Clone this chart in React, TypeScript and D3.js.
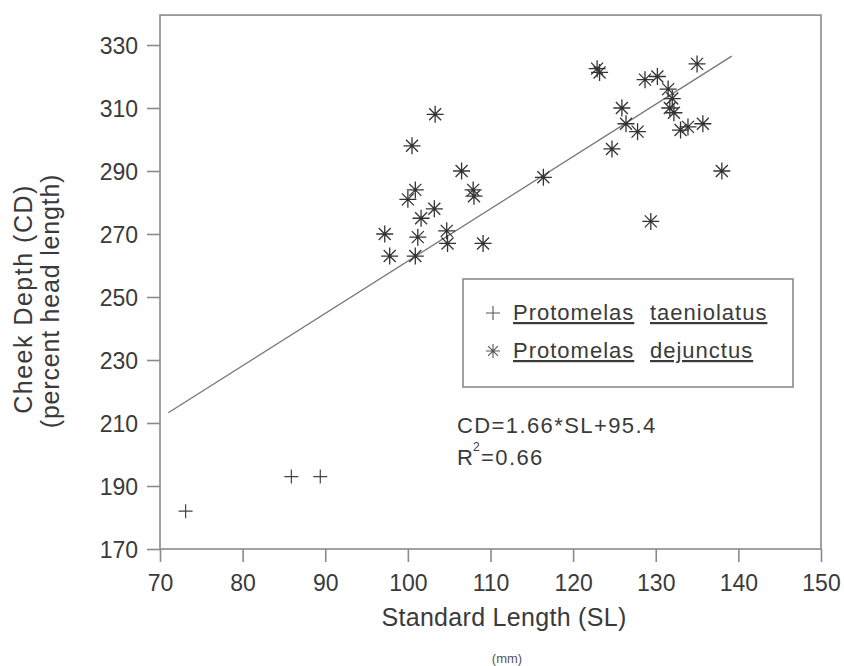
import React, { useEffect, useRef } from "react"
import * as d3 from "d3"

// Protomelas taeniolatus  [SL, CD]
const taeniolatusSL = [73.1, 85.9, 89.4]
const taeniolatusCD = [182, 193, 193]

// Protomelas dejunctus  [SL, CD]
const dejunctusSL = [
  97.2, 97.8, 100.0, 100.5, 100.9, 100.9, 101.2, 101.6, 103.2, 103.3, 104.7, 104.8,
  106.5, 107.9, 108.0, 109.1, 116.4, 122.9, 123.2, 124.7, 125.9, 126.4, 127.8, 128.7,
  129.4, 130.2, 131.5, 132.0, 131.7, 132.2, 133.0, 133.9, 135.0, 135.7, 138.0,
]
const dejunctusCD = [
  270, 263, 281, 298, 284, 263, 269, 275, 278, 308, 271, 267,
  290, 284, 282, 267, 288, 322.5, 321.3, 297, 310, 305, 302.5, 319,
  274, 320, 316, 313, 310, 308.5, 303, 304, 324, 305, 290,
]

const xTicks = [70, 80, 90, 100, 110, 120, 130, 140, 150]
const yTicks = [170, 190, 210, 230, 250, 270, 290, 310, 330]

// fitted line CD = 1.66*SL + 95.4, drawn over this SL range
const fitSlope = 1.66
const fitIntercept = 95.4
const fitRange = [71, 139.2]

const legendLabels = [
  ["Protomelas", "taeniolatus"],
  ["Protomelas", "dejunctus"],
]

const App = () => {
  const ref = useRef<SVGSVGElement>(null)

  useEffect(() => {
    const svg = d3.select(ref.current)
    svg.selectAll("*").remove()

    const font = "'Liberation Sans', Arial, Helvetica, sans-serif"
    const ink = "#3a3a3a"
    const frame = "#8a8a8a"

    const x = d3.scaleLinear().domain([70, 150]).range([160, 821])
    const y = d3.scaleLinear().domain([170, 330]).range([549, 45])
    const top = y(339.5)

    // frame
    svg.append("rect")
      .attr("x", x(70)).attr("y", top)
      .attr("width", x(150) - x(70)).attr("height", y(170) - top)
      .attr("fill", "none").attr("stroke", frame).attr("stroke-width", 1.6)

    // y axis
    const yAxis = d3.axisLeft(y).tickValues(yTicks).tickSize(13).tickSizeOuter(0).tickPadding(9)
    const gy = svg.append("g").attr("transform", `translate(${x(70)},0)`).call(yAxis)
    gy.select(".domain").remove()
    gy.selectAll("line").attr("stroke", frame).attr("stroke-width", 1.6)
    gy.selectAll("text").attr("font-family", font).attr("font-size", 23).attr("fill", ink)
      .attr("dy", "0.36em")

    // x axis
    const xAxis = d3.axisBottom(x).tickValues(xTicks).tickSize(13).tickSizeOuter(0).tickPadding(13)
    const gx = svg.append("g").attr("transform", `translate(0,${y(170)})`).call(xAxis)
    gx.select(".domain").remove()
    gx.selectAll("line").attr("stroke", frame).attr("stroke-width", 1.6)
    gx.selectAll("text").attr("font-family", font).attr("font-size", 23).attr("fill", ink)

    // axis titles
    svg.append("text").attr("x", 504).attr("y", 626).attr("text-anchor", "middle")
      .attr("font-family", font).attr("font-size", 25).attr("fill", ink).attr("letter-spacing", 0.3)
      .text("Standard Length (SL)")
    svg.append("text").attr("x", 507).attr("y", 663).attr("text-anchor", "middle")
      .attr("font-family", font).attr("font-size", 13).attr("fill", "#555")
      .text("(mm)")
    svg.append("text").attr("transform", "translate(32,299) rotate(-90)").attr("text-anchor", "middle")
      .attr("font-family", font).attr("font-size", 25).attr("fill", ink).attr("letter-spacing", 1.5)
      .text("Cheek Depth (CD)")
    svg.append("text").attr("transform", "translate(59,301) rotate(-90)").attr("text-anchor", "middle")
      .attr("font-family", font).attr("font-size", 25).attr("fill", ink).attr("letter-spacing", 0.8)
      .text("(percent head length)")

    // regression line
    const line = d3.line<number>().x((d) => x(d)).y((d) => y(fitSlope * d + fitIntercept))
    svg.append("path").attr("d", line(fitRange)).attr("fill", "none")
      .attr("stroke", "#777").attr("stroke-width", 1.3)

    const plusPath = (r: number) => `M${-r},0H${r}M0,${-r}V${r}`
    const starPath = (r: number) => {
      const k = r * Math.SQRT1_2
      return `M${-r},0H${r}M0,${-r}V${r}M${-k},${-k}L${k},${k}M${-k},${k}L${k},${-k}`
    }

    svg.append("g").selectAll("path").data(d3.range(taeniolatusSL.length)).enter()
      .append("path")
      .attr("transform", (i) => `translate(${x(taeniolatusSL[i])},${y(taeniolatusCD[i])})`)
      .attr("d", plusPath(7)).attr("stroke", "#444").attr("stroke-width", 1.2).attr("fill", "none")

    svg.append("g").selectAll("path").data(d3.range(dejunctusSL.length)).enter()
      .append("path")
      .attr("transform", (i) => `translate(${x(dejunctusSL[i])},${y(dejunctusCD[i])})`)
      .attr("d", starPath(8.5)).attr("stroke", "#333").attr("stroke-width", 1.3).attr("fill", "none")

    // legend
    svg.append("rect").attr("x", 463).attr("y", 279).attr("width", 330).attr("height", 108)
      .attr("fill", "white").attr("stroke", frame).attr("stroke-width", 1.6)
    const legendY = [320, 358]
    const markerPaths = [plusPath(7), starPath(7)]
    legendLabels.forEach((words, i) => {
      svg.append("path").attr("transform", `translate(493,${legendY[i] - 7})`)
        .attr("d", markerPaths[i]).attr("stroke", "#555").attr("stroke-width", 1.1).attr("fill", "none")
      const wordX = [513, 650]
      words.forEach((w, j) => {
        svg.append("text").attr("x", wordX[j]).attr("y", legendY[i])
          .attr("font-family", font).attr("font-size", 22).attr("letter-spacing", 1).attr("fill", ink)
          .attr("text-decoration", "underline")
          .text(w)
      })
    })

    // equation
    svg.append("text").attr("x", 457).attr("y", 433)
      .attr("font-family", font).attr("font-size", 22).attr("letter-spacing", 1.4).attr("fill", ink)
      .text("CD=1.66*SL+95.4")
    svg.append("text").attr("x", 457).attr("y", 465)
      .attr("font-family", font).attr("font-size", 22).attr("fill", ink).text("R")
    svg.append("text").attr("x", 473).attr("y", 451)
      .attr("font-family", font).attr("font-size", 12).attr("fill", ink).text("2")
    svg.append("text").attr("x", 481).attr("y", 465)
      .attr("font-family", font).attr("font-size", 22).attr("letter-spacing", 1.4).attr("fill", ink)
      .text("=0.66")
  }, [])

  return (
    <svg
      ref={ref}
      width={844}
      height={666}
      style={{ position: "absolute", left: 0, top: 0, background: "white" }}
    />
  )
}

export default App
